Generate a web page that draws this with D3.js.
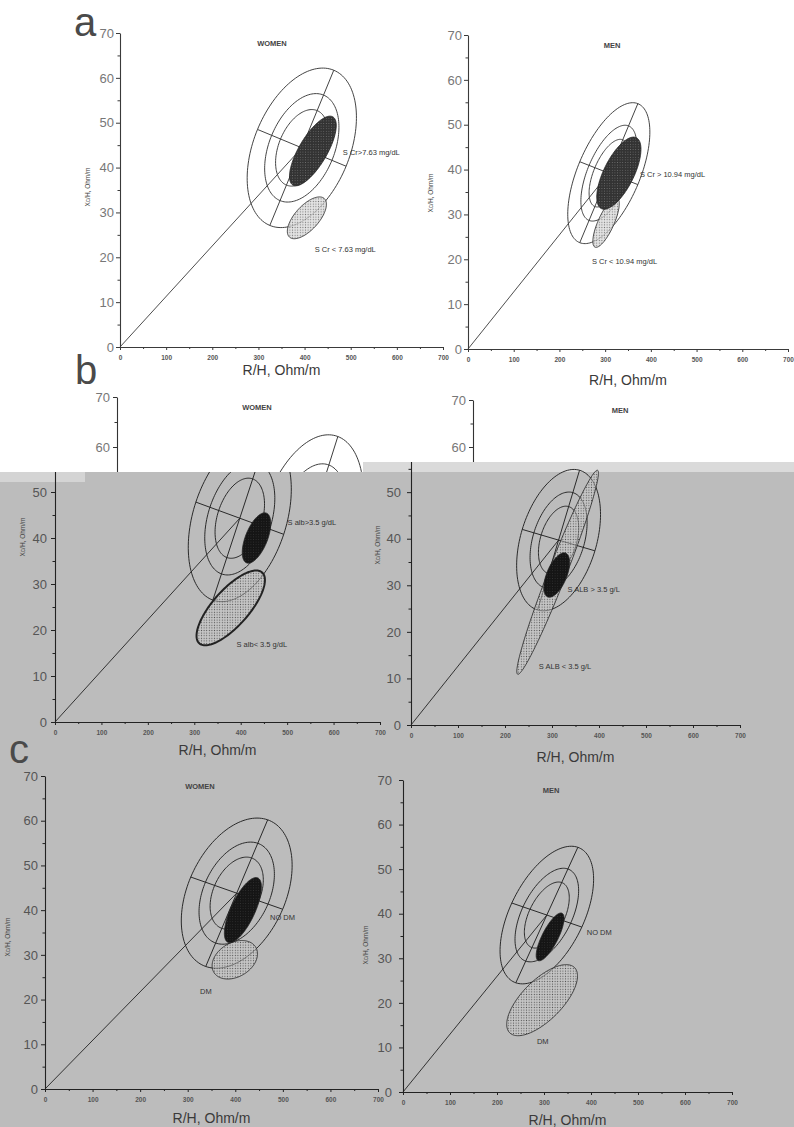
<!DOCTYPE html>
<html><head><meta charset="utf-8">
<script src="https://cdn.jsdelivr.net/npm/d3@7"></script>
<style>body{margin:0;background:#fff}svg{display:block}text{font-family:'Liberation Sans',Arial,sans-serif}</style>
</head><body><svg id="fig" width="794" height="1127"></svg>
<script>
// ---------------- data (R/H and Xc/H in Ohm/m) ----------------
const panelLetters = ["a", "b", "c"];
const sexes = ["WOMEN", "MEN", "WOMEN", "MEN", "WOMEN", "MEN"];
const xTicks = [0, 100, 200, 300, 400, 500, 600, 700];
const xMinor = [50, 150, 250, 350, 450, 550, 650];
const yTicks = [0, 10, 20, 30, 40, 50, 60, 70];
const yMinor = [5, 15, 25, 35, 45, 55, 65];
// tolerance ellipses (95 %): centre + conjugate half axes
const tolR     = [394, 308, 398, 314, 403, 306];
const tolXc    = [44.4, 39.2, 44.3, 39.7, 43.8, 39.7];
const tolMajR  = [69.3, 63.5, 58, 44.6, 65.1, 66];
const tolMajXc = [17.3, 15.5, 17.8, 15, 16.4, 15.2];
const tolMinR  = [96, 63.5, 94.6, 77.3, 96.6, 74.5];
const tolMinXc = [-4.1, -2.55, -3.5, -2.3, -3.6, -2.7];
const tolLevels = [0.48, 0.68, 1.0];          // 50 %, 75 %, 95 %
// group 1 (dark confidence ellipse)
const hiLabel  = ["S Cr>7.63 mg/dL", "S Cr > 10.94 mg/dL", "S alb>3.5 g/dL", "S ALB > 3.5 g/L", "NO DM", "NO DM"];
const hiR      = [418, 330, 434, 310, 416, 313];
const hiXc     = [43.7, 39.2, 40, 32.2, 40, 34.8];
const hiMajR   = [43.4, 38.3, 21.5, 19.1, 31.5, 25.5];
const hiMajXc  = [7.6, 7.9, 5.4, 4.7, 7.2, 5.3];
const hiMinR   = [26.2, 29.5, 21.9, 19.7, 22.9, 15.1];
const hiMinXc  = [-1.6, -1.5, -0.9, -0.8, -1.14, -0.8];
// group 2 (dotted confidence ellipse)
const loLabel  = ["S Cr < 7.63 mg/dL", "S Cr < 10.94 mg/dL", "S alb< 3.5 g/dL", "S ALB < 3.5 g/L", "DM", "DM"];
const loR      = [405, 302, 378.5, 312, 399, 296];
const loXc     = [28.8, 28.2, 24.8, 32.8, 28.9, 20.6];
const loMajR   = [37.7, 24.1, 67.7, 85, 44.1, 69.1];
const loMajXc  = [4.3, 5.5, 7.7, 21.9, 2.8, 7.3];
const loMinR   = [19.3, 16, 29, 17.8, 18.3, 30];
const loMinXc  = [-1.8, -0.7, -2.6, -0.7, -3.27, -3.2];

// ---------------- layout (b is a scanned collage: upper white piece + lower grey piece) ----------------
const upT = [60, 70], lowT = [0, 10, 20, 30, 40, 50];
const layout = [
  {i:0, xr:[120,443], yr:[347,33],  pad:2, ink:"#3a3a3a", tk:"#777", dots:"dotsW", dark:"darkW", title:272, xtDy:28, yt:[90,187],  hiPos:[483,42.8], loPos:[422,21.2], loW:0.8, clip:null, yT:yTicks, full:true,  showTitle:true},
  {i:1, xr:[468,788], yr:[349,35],  pad:2, ink:"#3a3a3a", tk:"#777", dots:"dotsW", dark:"darkW", title:612, xtDy:36, yt:[433,193], hiPos:[376,38.3], loPos:[271,18.9], loW:0.8, clip:null, yT:yTicks, full:true,  showTitle:true},
  {i:2, xr:[117,456], yr:[747,397], pad:3, ink:"#333", tk:"#777", dots:"dotsG", dark:"darkG", title:257, clip:"cUW", yT:upT, full:false, showTitle:true},
  {i:2, xr:[55,380],  yr:[722,400], pad:4, ink:"#222", tk:"#555", dots:"dotsG", dark:"darkG", xtDy:33, yt:[25,537], hiPos:[501,42.8], loPos:[391,16.3], loW:2, clip:"cLW", yT:lowT, full:true, showTitle:false},
  {i:3, xr:[473,753], yr:[729,400], pad:3, ink:"#333", tk:"#777", dots:"dotsG", dark:"darkG", title:620, clip:"cUM", yT:upT, full:false, showTitle:true},
  {i:3, xr:[411,740], yr:[725,399], pad:6, ink:"#222", tk:"#555", dots:"dotsG", dark:"darkG", xtDy:37, yt:[380,545], hiPos:[333,28.5], loPos:[272,12], loW:0.8, clip:"cLM", yT:lowT, full:true, showTitle:false},
  {i:4, xr:[45,378],  yr:[1089,776], pad:3, ink:"#222", tk:"#555", dots:"dotsG", dark:"darkG", title:200, xtDy:34, yt:[10,937], hiPos:[473,37.8], loPos:[326,21.3], loW:0.8, clip:null, yT:yTicks, full:true, showTitle:true},
  {i:5, xr:[403,732], yr:[1092,780], pad:7, ink:"#222", tk:"#555", dots:"dotsG", dark:"darkG", title:551, xtDy:33, yt:[368,945], hiPos:[391,35.2], loPos:[285,10.8], loW:0.8, clip:null, yT:yTicks, full:true, showTitle:true}
];

const svg = d3.select("#fig");
const defs = svg.append("defs");
function dotPattern(id, bg, bgOp, dot, r) {
  const p = defs.append("pattern").attr("id", id).attr("width", 2.6).attr("height", 2.6).attr("patternUnits", "userSpaceOnUse");
  p.append("rect").attr("width", 2.6).attr("height", 2.6).attr("fill", bg).attr("fill-opacity", bgOp);
  p.append("circle").attr("cx", 1.3).attr("cy", 1.3).attr("r", r).attr("fill", dot);
}
dotPattern("dotsW", "#d9d9d9", 0.75, "#777", 0.6);
dotPattern("dotsG", "#d0d0d0", 0.45, "#555", 0.6);
dotPattern("darkW", "#333", 1, "#777", 0.5);
dotPattern("darkG", "#151515", 1, "#3a3a3a", 0.45);
function clipRect(id, x, y, w, h) {
  defs.append("clipPath").attr("id", id).append("rect").attr("x", x).attr("y", y).attr("width", w).attr("height", h);
}
clipRect("cUW", 0, 0, 363, 472);
clipRect("cLW", 0, 472, 794, 655);
clipRect("cUM", 363, 0, 431, 462);
clipRect("cLM", 363, 462, 431, 665);

// backgrounds
svg.append("rect").attr("width", 794).attr("height", 1127).attr("fill", "#fff");
svg.append("rect").attr("x", 0).attr("y", 472).attr("width", 794).attr("height", 655).attr("fill", "#bcbcbc");
svg.append("rect").attr("x", 363).attr("y", 462).attr("width", 431).attr("height", 10).attr("fill", "#dadada");
svg.append("rect").attr("x", 0).attr("y", 472).attr("width", 85).attr("height", 10).attr("fill", "#d4d4d4");

const T = d3.range(0, 2 * Math.PI, Math.PI / 72);
function ellipse(cR, cX, aR, aX, bR, bX, k) {
  return T.map(t => [cR + k * (aR * Math.cos(t) + bR * Math.sin(t)), cX + k * (aX * Math.cos(t) + bX * Math.sin(t))]);
}

layout.forEach(L => {
  const i = L.i;
  const x = d3.scaleLinear().domain([0, 700]).range(L.xr);
  const y = d3.scaleLinear().domain([0, 70]).range(L.yr);
  const g = svg.append("g");
  if (L.clip) g.attr("clip-path", `url(#${L.clip})`);
  const path = d3.line().x(d => x(d[0])).y(d => y(d[1])).curve(d3.curveLinearClosed);
  const seg = d3.line().x(d => x(d[0])).y(d => y(d[1]));

  // y axis
  const ya = g.append("g").attr("transform", `translate(${x(0)},0)`)
    .call(d3.axisLeft(y).tickValues(L.yT).tickSize(4).tickSizeOuter(0).tickPadding(L.pad));
  ya.select(".domain").attr("stroke", L.ink).attr("stroke-width", 1.1);
  ya.selectAll(".tick line").attr("stroke", L.ink);
  ya.selectAll("text").attr("font-size", 13).attr("fill", L.tk).attr("font-family", "'Liberation Sans',Arial,sans-serif");
  g.append("g").attr("transform", `translate(${x(0)},0)`)
    .call(d3.axisLeft(y).tickValues(yMinor).tickSize(2.5).tickFormat(""))
    .call(s => { s.select(".domain").remove(); s.selectAll("line").attr("stroke", L.ink); });

  if (L.full) {
    const xa = g.append("g").attr("transform", `translate(0,${y(0)})`)
      .call(d3.axisBottom(x).tickValues(xTicks).tickSize(3).tickSizeOuter(0).tickPadding(5));
    xa.select(".domain").attr("stroke", L.ink).attr("stroke-width", 1.1);
    xa.selectAll(".tick line").attr("stroke", L.ink);
    xa.selectAll("text").attr("font-size", 6.5).attr("font-weight", "bold").attr("fill", "#555").attr("font-family", "'Liberation Sans',Arial,sans-serif");
    g.append("g").attr("transform", `translate(0,${y(0)})`)
      .call(d3.axisBottom(x).tickValues(xMinor).tickSize(2).tickFormat(""))
      .call(s => { s.select(".domain").remove(); s.selectAll("line").attr("stroke", L.ink); });
    g.append("text").attr("x", x(350)).attr("y", y(0) + L.xtDy).attr("text-anchor", "middle")
      .attr("font-size", 14).attr("fill", "#3a3a3a").text("R/H, Ohm/m");
    g.append("text").attr("transform", `translate(${L.yt[0]},${L.yt[1]}) rotate(-90)`).attr("text-anchor", "middle")
      .attr("font-size", 6.5).attr("fill", "#444").text("Xc/H, Ohm/m");
  }
  if (L.showTitle) {
    g.append("text").attr("x", L.title).attr("y", y(70) + 13).attr("text-anchor", "middle")
      .attr("font-size", 7.5).attr("font-weight", "bold").attr("fill", "#444").text(sexes[i]);
  }

  // radial line from origin to the mean vector
  g.append("path").attr("d", seg([[0, 0], [tolR[i], tolXc[i]]])).attr("stroke", L.ink).attr("fill", "none").attr("stroke-width", 0.9);
  // tolerance ellipses 50/75/95 %
  tolLevels.forEach(k => {
    g.append("path").attr("d", path(ellipse(tolR[i], tolXc[i], tolMajR[i], tolMajXc[i], tolMinR[i], tolMinXc[i], k)))
      .attr("fill", "none").attr("stroke", L.ink).attr("stroke-width", 0.95);
  });
  g.append("path").attr("d", seg([[tolR[i] - tolMajR[i], tolXc[i] - tolMajXc[i]], [tolR[i] + tolMajR[i], tolXc[i] + tolMajXc[i]]]))
    .attr("stroke", L.ink).attr("fill", "none").attr("stroke-width", 0.95);
  g.append("path").attr("d", seg([[tolR[i] - tolMinR[i], tolXc[i] - tolMinXc[i]], [tolR[i] + tolMinR[i], tolXc[i] + tolMinXc[i]]]))
    .attr("stroke", L.ink).attr("fill", "none").attr("stroke-width", 0.95);

  if (L.full) {
    g.append("path").attr("d", path(ellipse(loR[i], loXc[i], loMajR[i], loMajXc[i], loMinR[i], loMinXc[i], 1)))
      .attr("fill", `url(#${L.dots})`).attr("stroke", "#222").attr("stroke-width", L.loW);
    g.append("path").attr("d", path(ellipse(hiR[i], hiXc[i], hiMajR[i], hiMajXc[i], hiMinR[i], hiMinXc[i], 1)))
      .attr("fill", `url(#${L.dark})`).attr("stroke", "#222").attr("stroke-width", 0.8);
    g.append("text").attr("x", x(L.hiPos[0])).attr("y", y(L.hiPos[1])).attr("font-size", 7.5).attr("fill", "#333").text(hiLabel[i]);
    g.append("text").attr("x", x(L.loPos[0])).attr("y", y(L.loPos[1])).attr("font-size", 7.5).attr("fill", "#333").text(loLabel[i]);
  }
});

// panel letters
const letterPos = [[74, 36, 40], [75, 384, 40], [9, 763, 40]];
panelLetters.forEach((t, j) => {
  svg.append("text").attr("x", letterPos[j][0]).attr("y", letterPos[j][1]).attr("font-size", letterPos[j][2])
    .attr("fill", "#4a4a4a").text(t);
});
</script></body></html>
